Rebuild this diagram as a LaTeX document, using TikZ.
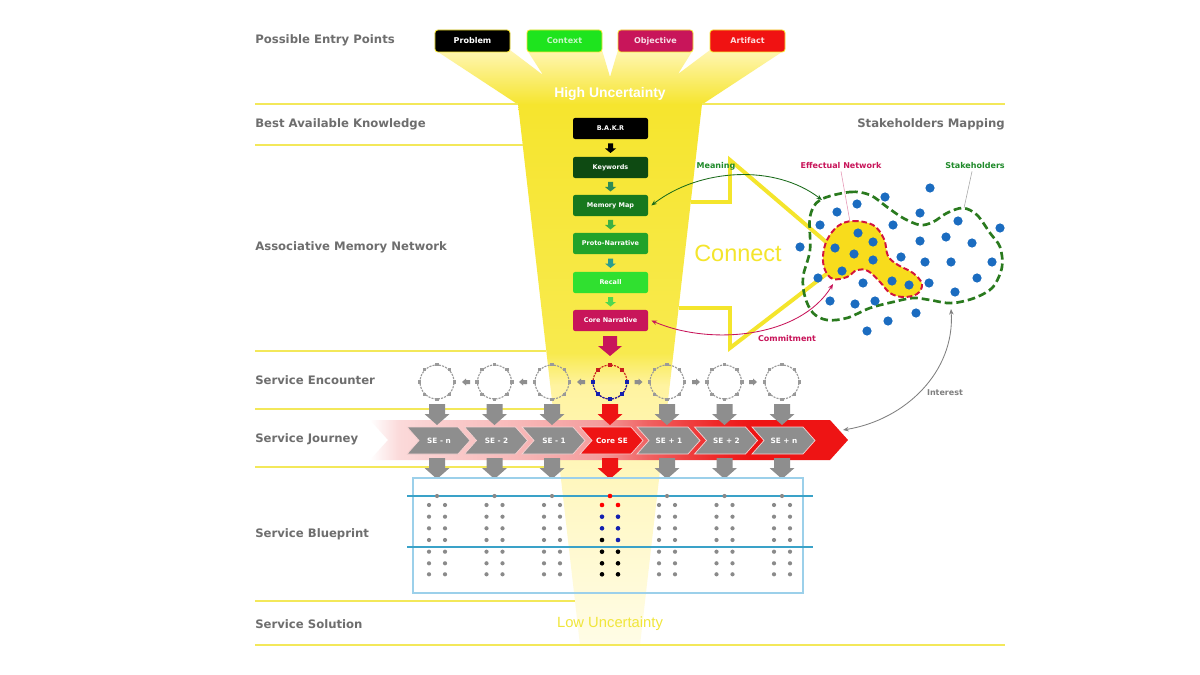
\documentclass[tikz,border=0pt]{standalone}
\usepackage{fontspec}
\setmainfont{DejaVu Sans}
\newfontfamily\hvf{Liberation Sans}
\usetikzlibrary{arrows.meta,calc}

\definecolor{labgray}{HTML}{6E6E6E}
\definecolor{lineyel}{HTML}{F3E85A}
\definecolor{funA}{HTML}{F6E52E}
\definecolor{funB}{HTML}{F8EA4E}
\definecolor{funC}{HTML}{FFF3A0}
\definecolor{funD}{HTML}{FFF8C6}
\definecolor{funE}{HTML}{FFFCE6}
\definecolor{funTop}{HTML}{FFF6B4}
\definecolor{crim}{HTML}{C8155A}
\definecolor{ctxgreen}{HTML}{1EE41E}
\definecolor{artred}{HTML}{F01212}
\definecolor{kwgreen}{HTML}{0E4A12}
\definecolor{mmgreen}{HTML}{17781E}
\definecolor{pngreen}{HTML}{22A22A}
\definecolor{rcgreen}{HTML}{30E030}
\definecolor{labgreen}{HTML}{1F8A2A}
\definecolor{dgreen}{HTML}{2A7A1E}
\definecolor{arrgreen}{HTML}{1A6B1A}
\definecolor{dotblue}{HTML}{1B6CC0}
\definecolor{blobyel}{HTML}{F8DC1C}
\definecolor{blobred}{HTML}{D3143E}
\definecolor{conyel}{HTML}{F4E52C}
\definecolor{lowyel}{HTML}{F0E63A}
\definecolor{jgray}{HTML}{8E8E8E}
\definecolor{jred}{HTML}{EE1414}
\definecolor{bandA}{HTML}{FBDADA}
\definecolor{bandB}{HTML}{F7B6B6}
\definecolor{bandC}{HTML}{F49C9C}
\definecolor{bandD}{HTML}{F06262}
\definecolor{bandE}{HTML}{EF2A2A}
\definecolor{bprect}{HTML}{9CD0EA}
\definecolor{bpline}{HTML}{3AA2C8}
\definecolor{bpgray}{HTML}{8A8A8A}
\definecolor{encgray}{HTML}{9A9A9A}
\definecolor{encblue}{HTML}{1420B0}
\definecolor{encred}{HTML}{C81E1E}
\definecolor{sa2}{HTML}{2E8B57}
\definecolor{sa3}{HTML}{3DB043}
\definecolor{sa4}{HTML}{2A9D8F}
\definecolor{sa5}{HTML}{4FD84F}
\definecolor{chevedge}{HTML}{F6D2D2}

\pgfdeclareverticalshading{trunkshade}{100bp}{color(0bp)=(funE); color(25bp)=(funE); color(38bp)=(funD); color(49bp)=(funC); color(52bp)=(funB); color(75bp)=(funA); color(100bp)=(funA)}
\pgfdeclarehorizontalshading{bandshade}{100bp}{color(0bp)=(white); color(25bp)=(white); color(28bp)=(bandA); color(41bp)=(bandB); color(49bp)=(bandC); color(54bp)=(bandD); color(61bp)=(bandE); color(65bp)=(jred); color(100bp)=(jred)}

\begin{document}
\begin{tikzpicture}[x=0.025cm,y=-0.025cm,
  lab/.style={font=\bfseries\fontsize{8.3}{10}\selectfont, text=labgray, inner sep=0},
  yl/.style={draw=lineyel, line width=1.3pt},
  entrybox/.style={rounded corners=2pt, minimum width=1.875cm, minimum height=0.55cm, inner sep=0, draw=funA, line width=0.6pt, font=\bfseries\fontsize{5.7}{6}\selectfont},
  stackbox/.style={rounded corners=1.5pt, minimum width=1.875cm, minimum height=0.525cm, inner sep=0, text=white, font=\bfseries\fontsize{4.6}{5}\selectfont},
  smalllab/.style={font=\bfseries\fontsize{5.7}{6}\selectfont, inner sep=0},
  enc/.style={circle, minimum size=0.85cm, inner sep=0},
  encline/.style={line width=0.8pt, dash pattern=on 1.5pt off 0.8pt},
  chevtxt/.style={text=white, font=\bfseries\fontsize{5.2}{6}\selectfont, inner sep=0},
  twoway/.style={line width=0.6pt, {Stealth[length=4pt,width=3.2pt]}-{Stealth[length=4pt,width=3.2pt]}},
  sdn/.pic={\path[pic actions] (-2.5,-4.5) -- (2.5,-4.5) -- (2.5,0.5) -- (5.5,0.5) -- (0,5) -- (-5.5,0.5) -- (-2.5,0.5) -- cycle;},
  bdn/.pic={\path[pic actions] (-8,0) -- (8,0) -- (8,10) -- (12.5,10) -- (0,21) -- (-12.5,10) -- (-8,10) -- cycle;},
  cdn/.pic={\path[pic actions] (-7,0) -- (7,0) -- (7,10) -- (12,10) -- (0,20) -- (-12,10) -- (-7,10) -- cycle;},
  sleft/.pic={\path[pic actions] (4,-2) -- (0,-2) -- (0,-3.5) -- (-4,0) -- (0,3.5) -- (0,2) -- (4,2) -- cycle;},
  sright/.pic={\path[pic actions] (-4,-2) -- (0,-2) -- (0,-3.5) -- (4,0) -- (0,3.5) -- (0,2) -- (-4,2) -- cycle;},
  chev/.pic={\path[pic actions] (-30,-13.5) -- (21,-13.5) -- (33,0) -- (21,13.5) -- (-30,13.5) -- (-18,0) -- cycle;}
]
\useasboundingbox (0,0) rectangle (1200,675);
\fill[white] (0,0) rectangle (1200,675);

% ---------- funnel ----------
\shade[shading=trunkshade] (518,104) -- (702,104) -- (640,645) -- (580,645) -- cycle;
\shade[top color=funTop, bottom color=funA] (435,50) -- (510,50) -- (543,75) -- (527,50) -- (602,50) -- (610,77) -- (618,50) -- (693,50) -- (678,74) -- (710,50) -- (785,50) -- (702,104.5) -- (518,104.5) -- cycle;

% ---------- yellow rules ----------
\draw[yl] (255,104) -- (518,104);
\draw[yl] (702,104) -- (1005,104);
\draw[yl] (255,145) -- (523,145);
\draw[yl] (255,351) -- (546,351);
\draw[yl] (255,409) -- (553,409);
\draw[yl] (255,467) -- (560,467);
\draw[yl] (255,601) -- (575,601);
\draw[yl] (255,645) -- (1005,645);

% ---------- row labels ----------
\node[lab, anchor=west] (lpep) at (255,40) {Possible Entry Points};
\node[lab, anchor=west] (lbak) at (255,124) {Best Available Knowledge};
\node[lab, anchor=west] (lamn) at (255,247) {Associative Memory Network};
\node[lab, anchor=west] (lse) at (255,380) {Service Encounter};
\node[lab, anchor=west] (lsj) at (255,439) {Service Journey};
\node[lab, anchor=west] (lsb) at (255,534) {Service Blueprint};
\node[lab, anchor=west] (lss) at (255,624) {Service Solution};
\node[lab, anchor=east] (lsm) at (1005,124) {Stakeholders Mapping};

% ---------- entry points ----------
\node[entrybox, fill=black, text=white] (prob) at (472.5,41) {Problem};
\node[entrybox, fill=ctxgreen, text=white!75!ctxgreen] (ctx) at (564.5,41) {Context};
\node[entrybox, fill=crim, text=white!85!crim] (obj) at (655.5,41) {Objective};
\node[entrybox, fill=artred, text=white!85!artred] (art) at (747.5,41) {Artifact};

\node[font=\hvf\bfseries\fontsize{9.9}{12}\selectfont, text=white, inner sep=0] (hu) at (610,94) {High Uncertainty};
\node[font=\hvf\fontsize{10.5}{12}\selectfont, text=lowyel, inner sep=0] (lu) at (610,624) {Low Uncertainty};

% ---------- memory stack ----------
\node[stackbox, fill=black] (bakr) at (610.5,128.5) {B.A.K.R};
\node[stackbox, fill=kwgreen] (kw) at (610.5,167.5) {Keywords};
\node[stackbox, fill=mmgreen] (mm) at (610.5,205.5) {Memory Map};
\node[stackbox, fill=pngreen] (pn) at (610.5,243.5) {Proto-Narrative};
\node[stackbox, fill=rcgreen] (rc) at (610.5,282.5) {Recall};
\node[stackbox, fill=crim] (cn) at (610.5,320.5) {Core Narrative};
\pic[fill=black] at ($(bakr.south)!0.5!(kw.north)$) {sdn};
\pic[fill=sa2] at ($(kw.south)!0.5!(mm.north)$) {sdn};
\pic[fill=sa3] at ($(mm.south)!0.5!(pn.north)$) {sdn};
\pic[fill=sa4] at ($(pn.south)!0.5!(rc.north)$) {sdn};
\pic[fill=sa5] at ($(rc.south)!0.5!(cn.north)$) {sdn};
\pic[fill=crim] at (610,336) {cdn};

% ---------- connect arrow ----------
\draw[conyel, line width=2.8pt, line join=miter] (691,202) -- (730,202) -- (730,160) -- (846,259) -- (730,348) -- (730,308) -- (679,308);
\node[font=\hvf\fontsize{16.7}{18}\selectfont, text=conyel, inner sep=0] (cnt) at (738,253) {Connect};

% ---------- stakeholder network ----------
\draw[dgreen, line width=1.9pt, dash pattern=on 5.5pt off 2.8pt] plot[smooth cycle, tension=0.55] coordinates {(820,200) (850,192) (870,195) (887,207) (903,218) (920,225) (933,222) (947,213) (963,208) (977,215) (990,233) (1000,247) (1002,267) (993,287) (977,297) (960,302) (947,303) (930,300) (913,298) (893,302) (870,308) (847,318) (827,320) (813,313) (805,297) (803,277) (810,250) (810,217)};
\draw[fill=blobyel, draw=blobred, line width=1.4pt, dash pattern=on 4pt off 2pt] plot[smooth cycle, tension=0.6] coordinates {(838,226) (853,221) (873,225) (884,239) (888,256) (898,265) (913,273) (922,284) (917,294) (903,297) (890,293) (880,282) (868,271) (857,270) (847,277) (833,279) (825,270) (823,256) (827,240)};
\foreach \p in {(930,188),(885,197),(857,204),(837,212),(920,213),(820,225),(893,225),(958,221),(1000,228),(858,233),(873,242),(920,241),(946,237),(972,243),(800,247),(835,248),(854,254),(873,260),(901,257),(925,262),(951,262),(992,262),(842,271),(818,278),(863,283),(892,281),(909,285),(929,283),(977,278),(830,301),(855,304),(875,301),(955,292),(916,313),(888,321),(867,331)}
  \fill[dotblue] \p circle[radius=4.6];

\coordinate (mtip) at (822,200);
\coordinate (ctip) at (833,284);
\coordinate (itip) at (951,309);
\coordinate (jtip) at (843,430);
\draw[twoway, arrgreen] ($(mm.east)+(3,0)$) .. controls (700,168) and (775,164) .. (mtip);
\draw[twoway, crim] ($(cn.east)+(3,0)$) .. controls (710,346) and (800,338) .. (ctip);
\draw[twoway, gray] (jtip) .. controls (905,420) and (955,372) .. (itip);

\node[smalllab, text=labgreen] (lmean) at (716,166) {Meaning};
\node[smalllab, text=crim] (leff) at (841,166) {Effectual Network};
\node[smalllab, text=labgreen] (lstk) at (975,166) {Stakeholders};
\node[smalllab, text=crim] (lcom) at (787,339) {Commitment};
\node[smalllab, text=gray] (lint) at (945,393) {Interest};
\draw[crim!45, line width=0.4pt] (leff.south) ++(0,2) -- (850,222);
\draw[gray!70, line width=0.4pt] (lstk.south) ++(-3,2) -- (964,208);

% ---------- service encounters ----------
\foreach \n/\x in {e1/437,e2/494.5,e3/552,e5/667,e6/724.5,e7/782} {
  \node[enc, draw=encgray, encline] (\n) at (\x,382) {};
  \foreach \a in {north,north east,east,south east,south,south west,west,north west}
    \fill[encgray] (\n.\a) +(-1.6,-1.6) rectangle +(1.6,1.6);
}
\node[enc] (ec) at (610,382) {};
\draw[encred, encline] (ec.center) circle[radius=17];
\begin{scope}
  \clip (585,383) rectangle (635,405);
  \draw[encblue, encline] (ec.center) circle[radius=17];
\end{scope}
\foreach \a in {north,north east,north west}
  \fill[encred] (ec.\a) +(-1.8,-1.8) rectangle +(1.8,1.8);
\foreach \a in {east,south east,south,south west,west}
  \fill[encblue] (ec.\a) +(-1.8,-1.8) rectangle +(1.8,1.8);
\foreach \x in {466,523,581} \pic[fill=jgray] at (\x,382) {sleft};
\foreach \x in {638.5,696,753} \pic[fill=jgray] at (\x,382) {sright};

% ---------- service journey ----------
\shade[shading=bandshade] (370,420) -- (830,420) -- (848,440) -- (830,460) -- (370,460) -- (388,440) -- cycle;
\foreach \n/\x/\t in {j1/437/SE - n,j2/494.5/SE - 2,j3/552/SE - 1,j5/667/SE + 1,j6/724.5/SE + 2,j7/782/SE + n} {
  \pic[fill=jgray, draw=chevedge, line width=0.5pt] at (\x,440.5) {chev};
  \node[chevtxt] (\n) at (\x+2,440.5) {\t};
}
\pic[fill=jred, draw=chevedge, line width=0.5pt] at (610,440.5) {chev};
\node[chevtxt] (j4) at (612,440.5) {Core SE};

\foreach \x in {437,494.5,552,667,724.5,782} {
  \pic[fill=jgray] at (\x,404) {bdn};
  \pic[fill=jgray] at (\x,458) {bdn};
}
\pic[fill=jred] at (610,404) {bdn};
\pic[fill=jred] at (610,458) {bdn};

% ---------- service blueprint ----------
\draw[bprect, line width=0.8pt] (413,478) rectangle (803,593);
\draw[bpline, line width=0.8pt] (407,496) -- (813,496);
\draw[bpline, line width=0.8pt] (407,547) -- (813,547);
\foreach \x in {437,494.5,552,667,724.5,782} {
  \fill[bpgray] (\x,496) circle[radius=2.1];
  \foreach \y in {505,516.7,528.3,540,551.7,563.3,574.3} {
    \fill[bpgray] (\x-8,\y) circle[radius=2.1];
    \fill[bpgray] (\x+8,\y) circle[radius=2.1];
  }
}
\fill[red] (610,496) circle[radius=2.3];
\foreach \y/\cl/\cr in {505/red/red,516.7/encblue/encblue,528.3/encblue/encblue,540/black/encblue,551.7/black/black,563.3/black/black,574.3/black/black} {
  \fill[\cl] (602,\y) circle[radius=2.3];
  \fill[\cr] (618,\y) circle[radius=2.3];
}
\end{tikzpicture}
\end{document}
